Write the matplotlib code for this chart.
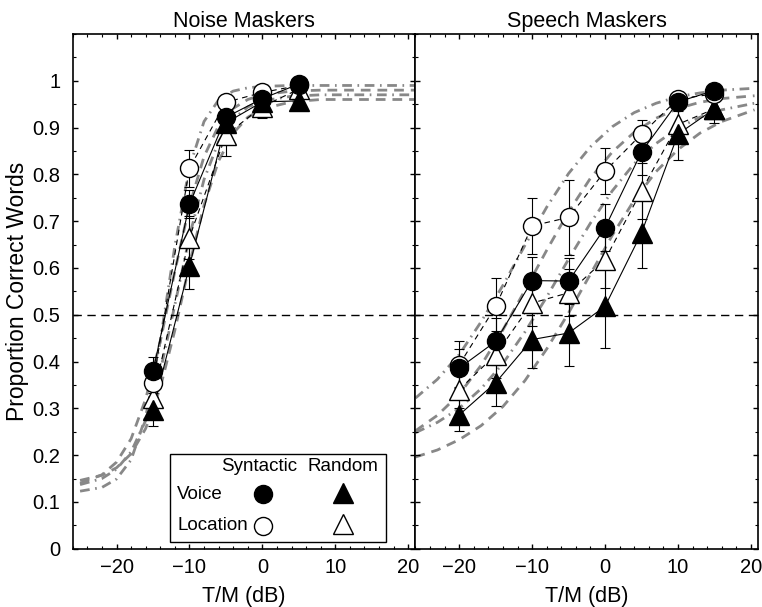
import matplotlib
matplotlib.use('Agg')
import matplotlib.pyplot as plt
from matplotlib.ticker import MultipleLocator
from matplotlib.patches import Rectangle

plt.rcParams['font.family'] = ['Liberation Sans', 'DejaVu Sans']
plt.rcParams['font.size'] = 15

# ---- noise maskers (left panel) ----
x_noise = [-15, -10, -5, 0, 5]
noise_voice_syn = [0.379, 0.736, 0.922, 0.962, 0.993]
noise_loc_syn = [0.354, 0.813, 0.954, 0.975, 0.990]
noise_voice_rnd = [0.297, 0.604, 0.910, 0.955, 0.957]
noise_loc_rnd = [0.322, 0.665, 0.884, 0.945, 0.982]
err_noise_voice_syn = [0.030, 0.030, 0.020, 0.010, 0.010]
err_noise_loc_syn = [0.030, 0.040, 0.015, 0.010, 0.010]
err_noise_voice_rnd = [0.035, 0.050, 0.025, 0.020, 0.020]
err_noise_loc_rnd = [0.030, 0.045, 0.045, 0.025, 0.015]

# fitted curves (noise)
fit_x_noise = [-25, -22, -20, -18, -16, -14, -12, -10, -8, -6, -4, -2, 0, 4, 8, 14, 21]
fit_noise_loc_syn = [0.123, 0.131, 0.149, 0.190, 0.282, 0.444, 0.647, 0.815, 0.913, 0.959,
                     0.978, 0.985, 0.988, 0.990, 0.990, 0.990, 0.990]
fit_noise_voice_syn = [0.140, 0.158, 0.185, 0.235, 0.320, 0.443, 0.593, 0.733, 0.838, 0.904,
                       0.941, 0.960, 0.970, 0.978, 0.980, 0.980, 0.980]
fit_noise_loc_rnd = [0.137, 0.150, 0.170, 0.207, 0.274, 0.379, 0.521, 0.667, 0.789, 0.870,
                     0.918, 0.944, 0.957, 0.967, 0.970, 0.970, 0.970]
fit_noise_voice_rnd = [0.146, 0.157, 0.173, 0.203, 0.257, 0.344, 0.467, 0.607, 0.734, 0.829,
                       0.888, 0.922, 0.940, 0.955, 0.960, 0.960, 0.960]

# ---- speech maskers (right panel) ----
x_speech = [-20, -15, -10, -5, 0, 5, 10, 15]
sp_voice_syn = [0.386, 0.443, 0.573, 0.572, 0.686, 0.848, 0.955, 0.979]
sp_loc_syn = [0.393, 0.518, 0.690, 0.708, 0.807, 0.886, 0.961, 0.972]
sp_voice_rnd = [0.286, 0.355, 0.447, 0.461, 0.518, 0.675, 0.886, 0.940]
sp_loc_rnd = [0.340, 0.415, 0.525, 0.547, 0.618, 0.765, 0.907, 0.940]
err_sp_voice_syn = [0.040, 0.050, 0.050, 0.050, 0.050, 0.050, 0.020, 0.015]
err_sp_loc_syn = [0.050, 0.060, 0.060, 0.080, 0.050, 0.030, 0.015, 0.015]
err_sp_voice_rnd = [0.035, 0.050, 0.060, 0.070, 0.090, 0.075, 0.055, 0.020]
err_sp_loc_rnd = [0.040, 0.050, 0.050, 0.050, 0.060, 0.060, 0.040, 0.030]

fit_x_speech = [-26, -23, -20, -17, -14, -11, -8, -5, -2, 1, 4, 7, 10, 13, 16, 20.5]
fit_sp_loc_syn = [0.322, 0.362, 0.415, 0.485, 0.563, 0.648, 0.730, 0.802, 0.859, 0.902,
                  0.932, 0.952, 0.966, 0.974, 0.980, 0.984]
fit_sp_voice_syn = [0.252, 0.285, 0.330, 0.392, 0.468, 0.552, 0.638, 0.720, 0.792, 0.848,
                    0.890, 0.920, 0.941, 0.954, 0.962, 0.968]
fit_sp_loc_rnd = [0.248, 0.270, 0.300, 0.342, 0.396, 0.463, 0.538, 0.619, 0.696, 0.765,
                  0.823, 0.866, 0.899, 0.922, 0.938, 0.952]
fit_sp_voice_rnd = [0.196, 0.211, 0.233, 0.263, 0.304, 0.359, 0.427, 0.504, 0.587, 0.670,
                    0.745, 0.806, 0.853, 0.888, 0.913, 0.938]

GRAY = '#888888'
DASH = (3.5, 2.5)
DASHDOT = (3.5, 2.0, 0.6, 2.0)


def draw_panel(ax, x, series, fit_x, fits):
    # fitted functions first (thick gray)
    for fy, pat in fits:
        ax.plot(fit_x, fy, color=GRAY, lw=2.0, dashes=pat, zorder=1)
    ax.axhline(0.5, color='black', lw=1.0, dashes=(6, 4), zorder=2)
    for y, err, marker, face, ls in series:
        ax.plot(x, y, color='black', lw=0.8, ls=ls, zorder=3)
        ax.errorbar(x, y, yerr=err, fmt='none', ecolor='black', elinewidth=0.8,
                    capsize=3.5, capthick=0.8, zorder=3)
        ax.plot(x, y, ls='none', marker=marker, ms=13 if marker == 'o' else 14,
                mfc=face, mec='black', mew=1.0, zorder=4)


fig, (ax1, ax2) = plt.subplots(1, 2, figsize=(7.62, 6.07), dpi=100, sharey=True)
fig.subplots_adjust(left=0.0955, right=0.995, bottom=0.096, top=0.944, wspace=0)

draw_panel(ax1, x_noise,
           [(noise_loc_rnd, err_noise_loc_rnd, '^', 'white', (0, (5, 4))),
            (noise_voice_rnd, err_noise_voice_rnd, '^', 'black', '-'),
            (noise_loc_syn, err_noise_loc_syn, 'o', 'white', (0, (5, 4))),
            (noise_voice_syn, err_noise_voice_syn, 'o', 'black', '-')],
           fit_x_noise,
           [(fit_noise_loc_syn, DASHDOT), (fit_noise_voice_syn, DASH),
            (fit_noise_loc_rnd, DASHDOT), (fit_noise_voice_rnd, DASH)])

draw_panel(ax2, x_speech,
           [(sp_loc_rnd, err_sp_loc_rnd, '^', 'white', (0, (5, 4))),
            (sp_voice_rnd, err_sp_voice_rnd, '^', 'black', '-'),
            (sp_loc_syn, err_sp_loc_syn, 'o', 'white', (0, (5, 4))),
            (sp_voice_syn, err_sp_voice_syn, 'o', 'black', '-')],
           fit_x_speech,
           [(fit_sp_loc_syn, DASHDOT), (fit_sp_voice_syn, DASH),
            (fit_sp_loc_rnd, DASHDOT), (fit_sp_voice_rnd, DASH)])

for ax, title in [(ax1, 'Noise Maskers'), (ax2, 'Speech Maskers')]:
    ax.set_xlim(-26, 21)
    ax.set_ylim(0, 1.1)
    ax.xaxis.set_major_locator(MultipleLocator(10))
    ax.xaxis.set_minor_locator(MultipleLocator(2))
    ax.yaxis.set_major_locator(MultipleLocator(0.1))
    ax.yaxis.set_minor_locator(MultipleLocator(0.05))
    ax.tick_params(which='both', direction='in', top=True, right=True, labelsize=14.5)
    ax.tick_params(which='major', length=3.8, width=1.0)
    ax.tick_params(which='minor', length=2.0, width=0.8)
    ax.tick_params(axis='x', pad=7)
    ax.tick_params(axis='y', pad=9)
    ax.set_title(title, fontsize=15.5, pad=5)
    ax.set_xlabel('T/M (dB)', fontsize=15.5, labelpad=6)
    for s in ax.spines.values():
        s.set_linewidth(1.2)

ax1.set_yticks([i / 10 for i in range(11)])
ax1.set_yticklabels(['0'] + ['%.1f' % (i / 10) for i in range(1, 10)] + ['1'])
ax1.set_ylabel('Proportion Correct Words', fontsize=16.5)
ax1.yaxis.set_label_coords(-0.128, 0.5)
ax2.tick_params(axis='y', which='both', labelleft=False)

# legend drawn by hand inside the noise panel
ax1.add_patch(Rectangle((-12.6, 0.015), 29.6, 0.188, fill=False, ec='black', lw=1.0, zorder=5))
ax1.text(-0.5, 0.175, 'Syntactic', ha='center', va='center', fontsize=13.5, zorder=6)
ax1.text(11.1, 0.175, 'Random', ha='center', va='center', fontsize=13.5, zorder=6)
ax1.text(-11.7, 0.115, 'Voice', ha='left', va='center', fontsize=13.5, zorder=6)
ax1.text(-11.7, 0.049, 'Location', ha='left', va='center', fontsize=13.5, zorder=6)
ax1.plot([0.1], [0.117], marker='o', ms=13, mfc='black', mec='black', ls='none', zorder=6)
ax1.plot([11.1], [0.12], marker='^', ms=14, mfc='black', mec='black', ls='none', zorder=6)
ax1.plot([0.1], [0.049], marker='o', ms=13, mfc='white', mec='black', ls='none', zorder=6)
ax1.plot([11.1], [0.052], marker='^', ms=14, mfc='white', mec='black', ls='none', zorder=6)

fig.savefig('out.png', dpi=100)
